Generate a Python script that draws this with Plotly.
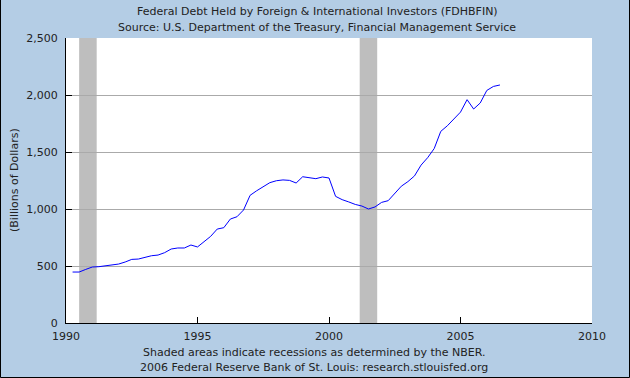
import plotly.graph_objects as go

# Quarterly dates (decimal years) and values (billions of dollars)
quarters = [1990.25 + 0.25 * i for i in range(66)]
values = [447, 447, 470, 491, 494, 500, 510, 517, 535, 558, 561, 578,
          590, 596, 617, 649, 658, 658, 684, 667, 715, 760, 824, 836,
          912, 932, 991, 1120, 1160, 1195, 1231, 1248, 1255, 1251, 1228, 1283,
          1272, 1266, 1281, 1272, 1111, 1082, 1062, 1040, 1026, 1000, 1018, 1058,
          1073, 1140, 1200, 1240, 1290, 1385, 1450, 1530, 1681, 1730, 1790, 1850,
          1959, 1877, 1930, 2040, 2075, 2088]

recessions = [(1990.5, 1991.167), (2001.167, 2001.833)]
x_ticks = [1990, 1995, 2000, 2005, 2010]
y_ticks = [0, 500, 1000, 1500, 2000, 2500]
y_ticklabels = ["0", "500", "1,000", "1,500", "2,000", "2,500"]

W, H = 630, 378
ML, MR, MT, MB = 66, 38, 38, 55
PW, PH = W - ML - MR, H - MT - MB

BG = "#B4CDE5"
TXT = "#222222"
FONT = "DejaVu Sans"
FS = 11

fig = go.Figure()
fig.add_trace(go.Scatter(x=quarters, y=values, mode="lines",
                         line=dict(color="#0000FF", width=1), hoverinfo="skip"))

shapes = []
for a, b in recessions:
    shapes.append(dict(type="rect", xref="x", yref="paper", x0=a, x1=b, y0=0, y1=1,
                       fillcolor="#BEBEBE", line=dict(width=0), layer="between"))
# outer frame
shapes.append(dict(type="rect", xref="paper", yref="paper",
                   x0=(0.5 - ML) / PW, x1=(W - 0.5 - ML) / PW,
                   y0=-(H - 0.5 - MT - PH) / PH, y1=(H - 0.5 - MT) / PH,
                   line=dict(color="#000000", width=1), fillcolor="rgba(0,0,0,0)",
                   layer="above"))


def ann(text, px, py, angle=0):
    return dict(text=text, xref="paper", yref="paper",
                x=(px - ML) / PW, y=(H - py - MB) / PH, textangle=angle,
                showarrow=False, xanchor="center", yanchor="middle",
                font=dict(size=FS, color=TXT, family=FONT))


annotations = [
    ann("Federal Debt Held by Foreign & International Investors (FDHBFIN)", 317, 12),
    ann("Source: U.S. Department of the Treasury, Financial Management Service", 317, 28),
    ann("Shaded areas indicate recessions as determined by the NBER.", 314, 352),
    ann("2006 Federal Reserve Bank of St. Louis: research.stlouisfed.org", 314, 367),
    ann("(Billions of Dollars)", 14, 180, -90),
]

fig.update_layout(
    width=W, height=H,
    margin=dict(l=ML, r=MR, t=MT, b=MB, pad=0),
    paper_bgcolor=BG, plot_bgcolor="#FFFFFF",
    showlegend=False,
    shapes=shapes, annotations=annotations,
    font=dict(family=FONT, size=FS, color=TXT),
    xaxis=dict(range=[1990, 2010], tickvals=x_ticks, ticktext=[str(t) for t in x_ticks],
               showgrid=False, zeroline=False, showline=True, linecolor="#000000", linewidth=1,
               ticks="inside", ticklen=6, tickcolor="#000000", tickfont=dict(size=FS, color=TXT),
               ticklabelstandoff=3, fixedrange=True),
    yaxis=dict(range=[0, 2500], tickvals=y_ticks, ticktext=y_ticklabels,
               showgrid=True, gridcolor="#AAAAAA", gridwidth=1, zeroline=False,
               showline=True, linecolor="#000000", linewidth=1,
               ticks="inside", ticklen=6, tickcolor="#000000", tickfont=dict(size=FS, color=TXT),
               ticklabelstandoff=5, fixedrange=True),
)

fig.write_html("out.html", config={"displayModeBar": False},
               post_script="document.body.style.margin='0';document.body.style.overflow='hidden';")
